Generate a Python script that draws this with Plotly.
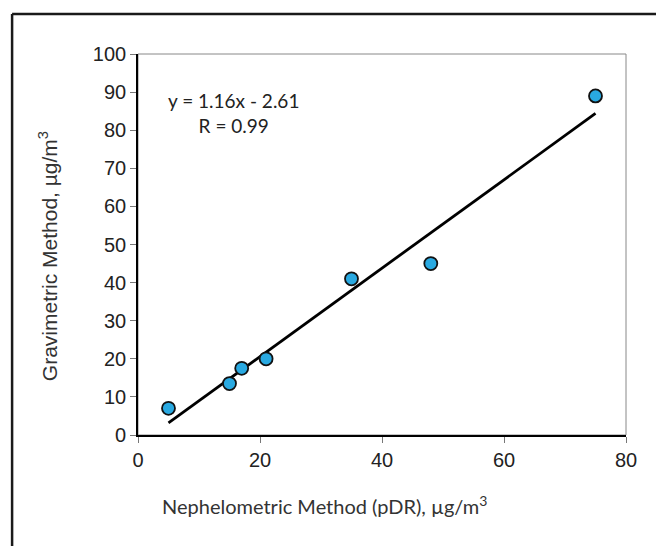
import plotly.graph_objects as go

# pDR vs gravimetric readings (ug/m3)
neph = [5, 15, 17, 21, 35, 48, 75]
grav = [7, 13.5, 17.5, 20, 41, 45, 89]

slope = 1.16
intercept = -2.61
r_value = 0.99

x_ticks = [0, 20, 40, 60, 80]
y_ticks = [0, 10, 20, 30, 40, 50, 60, 70, 80, 90, 100]

fit_x = [min(neph), max(neph)]
fit_y = [slope * v + intercept for v in fit_x]

fig = go.Figure()

fig.add_trace(
    go.Scatter(
        x=fit_x, y=fit_y, mode="lines",
        line=dict(color="black", width=2.8),
        hoverinfo="skip",
    )
)
fig.add_trace(
    go.Scatter(
        x=neph, y=grav, mode="markers",
        marker=dict(size=13, color="#29a9e1", line=dict(color="#111111", width=1.8)),
    )
)

tick_font = dict(family="Liberation Sans, Arial, sans-serif", size=20, color="#222222")

fig.update_xaxes(
    range=[0, 80], tickvals=x_ticks, showgrid=False, zeroline=False,
    showline=True, linecolor="black", linewidth=1.6,
    ticks="outside", ticklen=6, tickcolor="#777777", tickwidth=1,
    tickfont=tick_font, fixedrange=True,
)
fig.update_yaxes(
    range=[0, 100], tickvals=y_ticks, showgrid=False, zeroline=False,
    showline=True, linecolor="black", linewidth=1.6,
    ticks="outside", ticklen=6, tickcolor="#777777", tickwidth=1,
    tickfont=tick_font, fixedrange=True,
)

# thin grey frame for top/right edges of the plot area
fig.add_shape(type="rect", xref="paper", yref="paper", x0=0, y0=0, x1=1, y1=1,
              line=dict(color="#888888", width=1), layer="below")
# outer border: only the top and left edges fall inside the picture
fig.add_shape(type="line", xref="paper", yref="paper", x0=-0.258, y0=1.105, x1=2, y1=1.105,
              line=dict(color="#1a1a1a", width=2.5), layer="below")
fig.add_shape(type="line", xref="paper", yref="paper", x0=-0.258, y0=-1, x1=-0.258, y1=1.105,
              line=dict(color="#1a1a1a", width=2.5), layer="below")

fig.add_annotation(
    x=15.6, y=84.6, xref="x", yref="y", showarrow=False,
    text=f"y = {slope:.2f}x - {abs(intercept):.2f}<br>R = {r_value:.2f}",
    font=dict(family="Lato, sans-serif", size=19, color="#222222"),
    align="center",
)
fig.add_annotation(
    x=0.383, y=-0.184, xref="paper", yref="paper", showarrow=False,
    xanchor="center", yanchor="middle",
    text="Nephelometric Method (pDR), µg/m<sup>3</sup>",
    font=dict(family="Lato, sans-serif", size=20, color="#333333"),
)
fig.add_annotation(
    x=-0.184, y=0.47, xref="paper", yref="paper", showarrow=False, textangle=-90,
    xanchor="center", yanchor="middle",
    text="Gravimetric Method, µg/m<sup>3</sup>",
    font=dict(family="Liberation Sans, Arial, sans-serif", size=21, color="#333333"),
)

fig.update_layout(
    width=664, height=546,
    showlegend=False,
    paper_bgcolor="white",
    plot_bgcolor="white",
    margin=dict(l=130, r=46, t=46, b=119),
)

fig.write_html("out.html")
